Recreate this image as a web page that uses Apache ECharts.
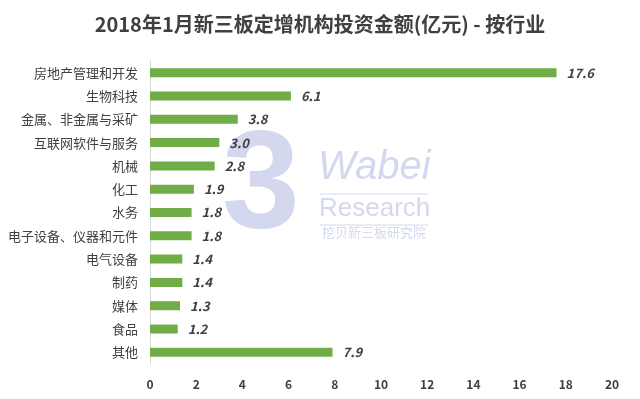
<!DOCTYPE html>
<html>
<head>
<meta charset="utf-8">
<script src="https://cdn.jsdelivr.net/npm/echarts@6/dist/echarts.min.js"></script>
<style>
	html, body { margin: 0; padding: 0; background: #fff; }
	#main { width: 640px; height: 399px; }
</style>
</head>
<body>
<div id="main"></div>
<script>
// categories from top to bottom
var industries = ['房地产管理和开发', '生物科技', '金属、非金属与采矿', '互联网软件与服务', '机械', '化工', '水务',
	'电子设备、仪器和元件', '电气设备', '制药', '媒体', '食品', '其他'];
var amounts = [17.6, 6.1, 3.8, 3.0, 2.8, 1.9, 1.8, 1.8, 1.4, 1.4, 1.3, 1.2, 7.9];

var myChart = echarts.init(document.getElementById('main'));
var font = '"Microsoft YaHei", "Noto Sans CJK SC", sans-serif';
var wm = '#d3d8ee';

option = {
	backgroundColor: '#fff',
	animation: false,
	title: {
		text: '2018年1月新三板定增机构投资金额(亿元) - 按行业',
		left: 'center',
		top: 9,
		textStyle: {
			fontFamily: font,
			fontSize: 20,
			fontWeight: 'bold',
			color: '#404040'
		}
	},
	graphic: [{
		type: 'text',
		left: 222,
		top: 118,
		z: 0,
		style: {
			text: '3',
			fontSize: 140,
			fontWeight: 'bold',
			fontFamily: 'Liberation Sans',
			fill: wm
		}
	}, {
		type: 'text',
		left: 318,
		top: 148,
		z: 0,
		style: {
			text: 'Wabei',
			fontSize: 40,
			fontStyle: 'italic',
			fontFamily: 'Liberation Sans',
			fill: wm
		}
	}, {
		type: 'line',
		z: 0,
		shape: { x1: 320, y1: 194, x2: 428, y2: 194 },
		style: { stroke: wm, lineWidth: 1 }
	}, {
		type: 'text',
		left: 319,
		top: 196,
		z: 0,
		style: {
			text: 'Research',
			fontSize: 26,
			fontFamily: 'Liberation Sans',
			fill: wm
		}
	}, {
		type: 'line',
		z: 0,
		shape: { x1: 320, y1: 225, x2: 428, y2: 225 },
		style: { stroke: wm, lineWidth: 1 }
	}, {
		type: 'text',
		left: 322,
		top: 226,
		z: 0,
		style: {
			text: '挖贝新三板研究院',
			fontSize: 13,
			fontFamily: font,
			fill: wm
		}
	}],
	grid: {
		left: 150,
		right: 28,
		top: 61,
		bottom: 35
	},
	xAxis: [{
		type: 'value',
		min: 0,
		max: 20,
		interval: 2,
		splitLine: { show: false },
		axisLine: { show: false },
		axisTick: { show: false },
		axisLabel: {
			margin: 14,
			fontFamily: font,
			fontSize: 12,
			fontWeight: 'bold',
			color: '#404040'
		}
	}],
	yAxis: [{
		type: 'category',
		inverse: true,
		data: industries,
		axisLine: { lineStyle: { color: '#d9d9d9' } },
		axisTick: { show: false },
		axisLabel: {
			margin: 12,
			fontFamily: font,
			fontSize: 13,
			color: '#404040'
		}
	}],
	series: [{
		name: '投资金额',
		type: 'bar',
		barWidth: 9,
		itemStyle: { color: '#70ad47' },
		label: {
			show: true,
			position: 'right',
			distance: 10,
			formatter: function(p) { return p.value.toFixed(1); },
			fontFamily: font,
			fontSize: 13,
			fontWeight: 'bold',
			fontStyle: 'italic',
			color: '#404040'
		},
		data: amounts
	}]
};
myChart.setOption(option);
</script>
</body>
</html>
